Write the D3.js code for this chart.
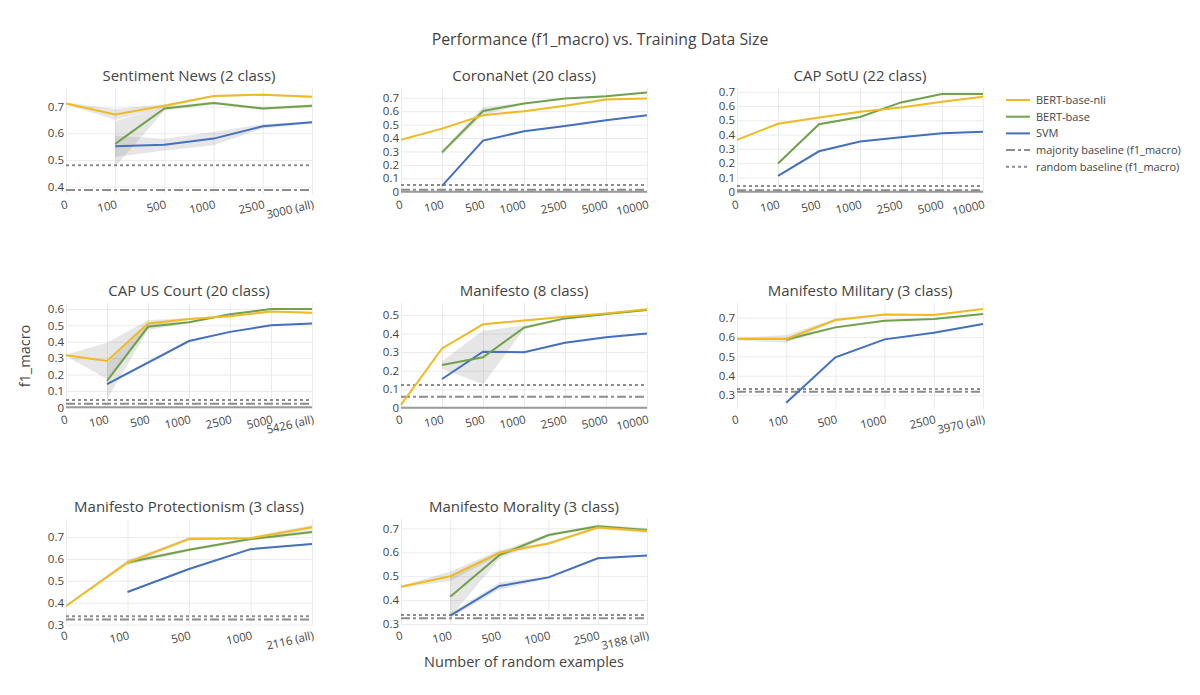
<!DOCTYPE html>
<html>
<head>
<meta charset="utf-8">
<script src="https://cdn.jsdelivr.net/npm/d3@7"></script>
<style>
  body { margin: 0; background: #fff; }
  svg text { font-family: "Open Sans", Verdana, Arial, sans-serif; fill: #444; }
</style>
</head>
<body>
<svg id="chart" width="1200" height="695"></svg>
<script>
// ---- data (null = no run at that size) ----
// Sentiment News (2 class)
const sentX = ["0", "100", "500", "1000", "2500", "3000 (all)"]
const sentNli = [0.712, 0.671, 0.703, 0.740, 0.745, 0.737]
const sentNliSd = [0.004, 0.02, 0.006, 0.004, 0.004, 0.004]
const sentBert = [null, 0.560, 0.693, 0.714, 0.693, 0.703]
const sentBertSd = [null, 0.085, 0.008, 0.005, 0.006, 0.005]
const sentSvm = [null, 0.551, 0.557, 0.580, 0.626, 0.641]
const sentSvmSd = [null, 0.04, 0.022, 0.025, 0.008, 0.004]
const sentBase = [0.387, 0.480]   // majority, random
const sentTicks = [0.4, 0.5, 0.6, 0.7]

// CoronaNet (20 class)
const coronaX = ["0", "100", "500", "1000", "2500", "5000", "10000"]
const coronaNli = [0.387, 0.470, 0.570, 0.600, 0.640, 0.688, 0.695]
const coronaNliSd = [0.004, 0.005, 0.006, 0.004, 0.004, 0.004, 0.004]
const coronaBert = [null, 0.293, 0.602, 0.657, 0.695, 0.712, 0.740]
const coronaBertSd = [null, 0.015, 0.03, 0.005, 0.004, 0.004, 0.004]
const coronaSvm = [null, 0.043, 0.381, 0.451, 0.489, 0.532, 0.570]
const coronaSvmSd = [null, 0.004, 0.005, 0.004, 0.004, 0.004, 0.004]
const coronaBase = [0.015, 0.050]
const coronaTicks = [0, 0.1, 0.2, 0.3, 0.4, 0.5, 0.6, 0.7]

// CAP SotU (22 class)
const sotuX = ["0", "100", "500", "1000", "2500", "5000", "10000"]
const sotuNli = [0.363, 0.476, 0.519, 0.559, 0.590, 0.630, 0.665]
const sotuNliSd = [0.004, 0.005, 0.004, 0.004, 0.004, 0.004, 0.004]
const sotuBert = [null, 0.198, 0.472, 0.523, 0.625, 0.684, 0.684]
const sotuBertSd = [null, 0.008, 0.006, 0.005, 0.004, 0.004, 0.004]
const sotuSvm = [null, 0.111, 0.283, 0.351, 0.382, 0.410, 0.420]
const sotuSvmSd = [null, 0.004, 0.004, 0.004, 0.004, 0.004, 0.004]
const sotuBase = [0.010, 0.040]
const sotuTicks = [0, 0.1, 0.2, 0.3, 0.4, 0.5, 0.6, 0.7]

// CAP US Court (20 class)
const courtX = ["0", "100", "500", "1000", "2500", "5000", "5426 (all)"]
const courtNli = [0.317, 0.283, 0.511, 0.539, 0.555, 0.584, 0.576]
const courtNliSd = [0.004, 0.11, 0.02, 0.005, 0.005, 0.005, 0.005]
const courtBert = [null, 0.161, 0.491, 0.519, 0.567, 0.600, 0.600]
const courtBertSd = [null, 0.11, 0.02, 0.005, 0.005, 0.004, 0.004]
const courtSvm = [null, 0.141, 0.273, 0.404, 0.460, 0.500, 0.511]
const courtSvmSd = [null, 0.006, 0.01, 0.005, 0.004, 0.004, 0.004]
const courtBase = [0.022, 0.045]
const courtTicks = [0, 0.1, 0.2, 0.3, 0.4, 0.5, 0.6]

// Manifesto (8 class)
const maniX = ["0", "100", "500", "1000", "2500", "5000", "10000"]
const maniNli = [0.015, 0.320, 0.450, 0.470, 0.491, 0.509, 0.531]
const maniNliSd = [0.004, 0.005, 0.005, 0.004, 0.004, 0.004, 0.004]
const maniBert = [null, 0.230, 0.272, 0.432, 0.482, 0.506, 0.527]
const maniBertSd = [null, 0.02, 0.145, 0.01, 0.006, 0.004, 0.004]
const maniSvm = [null, 0.155, 0.302, 0.299, 0.351, 0.380, 0.400]
const maniSvmSd = [null, 0.004, 0.004, 0.004, 0.004, 0.004, 0.004]
const maniBase = [0.059, 0.122]
const maniTicks = [0, 0.1, 0.2, 0.3, 0.4, 0.5]

// Manifesto Military (3 class)
const milX = ["0", "100", "500", "1000", "2500", "3970 (all)"]
const milNli = [0.590, 0.590, 0.688, 0.717, 0.714, 0.745]
const milNliSd = [0.006, 0.02, 0.008, 0.004, 0.004, 0.004]
const milBert = [null, 0.587, 0.650, 0.684, 0.693, 0.719]
const milBertSd = [null, 0.01, 0.006, 0.004, 0.004, 0.004]
const milSvm = [null, 0.260, 0.495, 0.588, 0.622, 0.667]
const milSvmSd = [null, 0.004, 0.004, 0.004, 0.004, 0.004]
const milBase = [0.317, 0.331]
const milTicks = [0.3, 0.4, 0.5, 0.6, 0.7]

// Manifesto Protectionism (3 class)
const protX = ["0", "100", "500", "1000", "2116 (all)"]
const protNli = [0.385, 0.584, 0.692, 0.695, 0.745]
const protNliSd = [0.004, 0.01, 0.008, 0.006, 0.01]
const protBert = [null, 0.584, 0.642, 0.691, 0.723]
const protBertSd = [null, 0.012, 0.006, 0.006, 0.008]
const protSvm = [null, 0.449, 0.554, 0.645, 0.669]
const protSvmSd = [null, 0.004, 0.004, 0.004, 0.004]
const protBase = [0.323, 0.338]
const protTicks = [0.3, 0.4, 0.5, 0.6, 0.7]

// Manifesto Morality (3 class)
const moralX = ["0", "100", "500", "1000", "2500", "3188 (all)"]
const moralNli = [0.456, 0.500, 0.598, 0.637, 0.703, 0.689]
const moralNliSd = [0.004, 0.02, 0.01, 0.006, 0.006, 0.008]
const moralBert = [null, 0.414, 0.588, 0.672, 0.709, 0.693]
const moralBertSd = [null, 0.085, 0.015, 0.006, 0.006, 0.008]
const moralSvm = [null, 0.335, 0.459, 0.495, 0.575, 0.586]
const moralSvmSd = [null, 0.01, 0.015, 0.005, 0.004, 0.004]
const moralBase = [0.324, 0.338]
const moralTicks = [0.3, 0.4, 0.5, 0.6, 0.7]

const seriesNames = ["BERT-base-nli", "BERT-base", "SVM"]
const baselineNames = ["majority baseline (f1_macro)", "random baseline (f1_macro)"]

// y ranges of each panel (as plotly autoranged them)
const panels = [
  {title: "Sentiment News (2 class)", cats: sentX, yDom: [0.372, 0.770], ticks: sentTicks, base: sentBase,
   vals: [sentNli, sentBert, sentSvm], sds: [sentNliSd, sentBertSd, sentSvmSd]},
  {title: "CoronaNet (20 class)", cats: coronaX, yDom: [-0.017, 0.773], ticks: coronaTicks, base: coronaBase,
   vals: [coronaNli, coronaBert, coronaSvm], sds: [coronaNliSd, coronaBertSd, coronaSvmSd]},
  {title: "CAP SotU (22 class)", cats: sotuX, yDom: [-0.016, 0.726], ticks: sotuTicks, base: sotuBase,
   vals: [sotuNli, sotuBert, sotuSvm], sds: [sotuNliSd, sotuBertSd, sotuSvmSd]},
  {title: "CAP US Court (20 class)", cats: courtX, yDom: [-0.01, 0.636], ticks: courtTicks, base: courtBase,
   vals: [courtNli, courtBert, courtSvm], sds: [courtNliSd, courtBertSd, courtSvmSd]},
  {title: "Manifesto (8 class)", cats: maniX, yDom: [-0.007, 0.565], ticks: maniTicks, base: maniBase,
   vals: [maniNli, maniBert, maniSvm], sds: [maniNliSd, maniBertSd, maniSvmSd]},
  {title: "Manifesto Military (3 class)", cats: milX, yDom: [0.228, 0.776], ticks: milTicks, base: milBase,
   vals: [milNli, milBert, milSvm], sds: [milNliSd, milBertSd, milSvmSd]},
  {title: "Manifesto Protectionism (3 class)", cats: protX, yDom: [0.298, 0.783], ticks: protTicks, base: protBase,
   vals: [protNli, protBert, protSvm], sds: [protNliSd, protBertSd, protSvmSd]},
  {title: "Manifesto Morality (3 class)", cats: moralX, yDom: [0.296, 0.739], ticks: moralTicks, base: moralBase,
   vals: [moralNli, moralBert, moralSvm], sds: [moralNliSd, moralBertSd, moralSvmSd]}
]

// ---- styles / layout ----
const colors = ["#f0bb22", "#6fa24a", "#4470c0"]
const baseColor = "#8c8c8c"
const baseDash = ["9,3,3,3", "3,3"]
const colLeft = [66, 401, 737]
const rowTop = [88, 303, 519]
const plotW = 246, plotH = 106
const fmt = d3.format(".1~f")

const svg = d3.select("#chart")

svg.append("text")
  .attr("x", 600).attr("y", 45)
  .attr("text-anchor", "middle")
  .style("font-size", "15.8px")
  .text("Performance (f1_macro) vs. Training Data Size")

panels.forEach((p, i) => {
  const col = i % 3, row = Math.floor(i / 3)
  const g = svg.append("g").attr("transform", `translate(${colLeft[col]},${rowTop[row]})`)

  const x = d3.scalePoint().domain(p.cats).range([0, plotW])
  const y = d3.scaleLinear().domain(p.yDom).range([plotH, 0])

  // horizontal grid + y tick labels
  const yAxis = g.append("g")
    .call(d3.axisLeft(y).tickValues(p.ticks).tickFormat(fmt).tickSize(-plotW).tickPadding(2))
  yAxis.select(".domain").remove()
  yAxis.selectAll("line").attr("stroke", "#ebebeb")
  yAxis.selectAll("text").style("font-size", "11.5px")

  // vertical grid + slanted x tick labels
  const xAxis = g.append("g").attr("transform", `translate(0,${plotH})`)
    .call(d3.axisBottom(x).tickSize(-plotH))
  xAxis.select(".domain").remove()
  xAxis.selectAll("line").attr("stroke", "#ebebeb")
  xAxis.selectAll("text")
    .attr("x", 0).attr("y", 0).attr("dy", 0)
    .attr("text-anchor", "end")
    .attr("transform", "translate(2,14) rotate(-13)")
    .style("font-size", "11.5px")

  // zero line
  if (p.yDom[0] < 0) {
    g.append("line")
      .attr("x1", 0).attr("x2", plotW)
      .attr("y1", y(0)).attr("y2", y(0))
      .attr("stroke", "#9a9a9a").attr("stroke-width", 2)
  }

  const clipId = "clip" + i
  g.append("clipPath").attr("id", clipId)
    .append("rect").attr("x", -1).attr("y", 0).attr("width", plotW + 2).attr("height", plotH)
  const inner = g.append("g").attr("clip-path", `url(#${clipId})`)

  // std bands
  p.vals.forEach((vals, s) => {
    const pts = p.cats.map((c, k) => ({c, v: vals[k], sd: p.sds[s][k]}))
    const area = d3.area()
      .defined(d => d.v != null)
      .x(d => x(d.c))
      .y0(d => y(d.v - d.sd))
      .y1(d => y(d.v + d.sd))
    inner.append("path").attr("d", area(pts))
      .attr("fill", "rgba(128,128,128,0.2)")
  })

  // baselines
  p.base.forEach((b, k) => {
    inner.append("line")
      .attr("x1", 0).attr("x2", plotW)
      .attr("y1", y(b)).attr("y2", y(b))
      .attr("stroke", baseColor).attr("stroke-width", 2)
      .attr("stroke-dasharray", baseDash[k])
  })

  // lines, SVM first so nli sits on top
  for (let s = p.vals.length - 1; s >= 0; s--) {
    const pts = p.cats.map((c, k) => ({c, v: p.vals[s][k]}))
    const line = d3.line()
      .defined(d => d.v != null)
      .x(d => x(d.c))
      .y(d => y(d.v))
    inner.append("path").attr("d", line(pts))
      .attr("fill", "none")
      .attr("stroke", colors[s])
      .attr("stroke-width", 2)
  }

  g.append("text")
    .attr("x", plotW / 2).attr("y", -7)
    .attr("text-anchor", "middle")
    .style("font-size", "15px")
    .text(p.title)
})

// axis titles
svg.append("text")
  .attr("transform", `translate(30,${rowTop[1] + plotH / 2}) rotate(-90)`)
  .attr("text-anchor", "middle")
  .style("font-size", "14.5px")
  .text("f1_macro")

svg.append("text")
  .attr("x", colLeft[1] + plotW / 2).attr("y", 667)
  .attr("text-anchor", "middle")
  .style("font-size", "14.5px")
  .text("Number of random examples")

// legend
const legend = svg.append("g").attr("transform", "translate(1006,100)")
const legItems = seriesNames.map((n, k) => ({name: n, color: colors[k], dash: null}))
  .concat(baselineNames.map((n, k) => ({name: n, color: baseColor, dash: baseDash[k]})))

legItems.forEach((d, k) => {
  const row = legend.append("g").attr("transform", `translate(0,${k * 16.7})`)
  row.append("line")
    .attr("x1", 0).attr("x2", 24)
    .attr("stroke", d.color).attr("stroke-width", 2)
    .attr("stroke-dasharray", d.dash)
  row.append("text")
    .attr("x", 30).attr("dy", "0.35em")
    .style("font-size", "11px")
    .text(d.name)
})
</script>
</body>
</html>
